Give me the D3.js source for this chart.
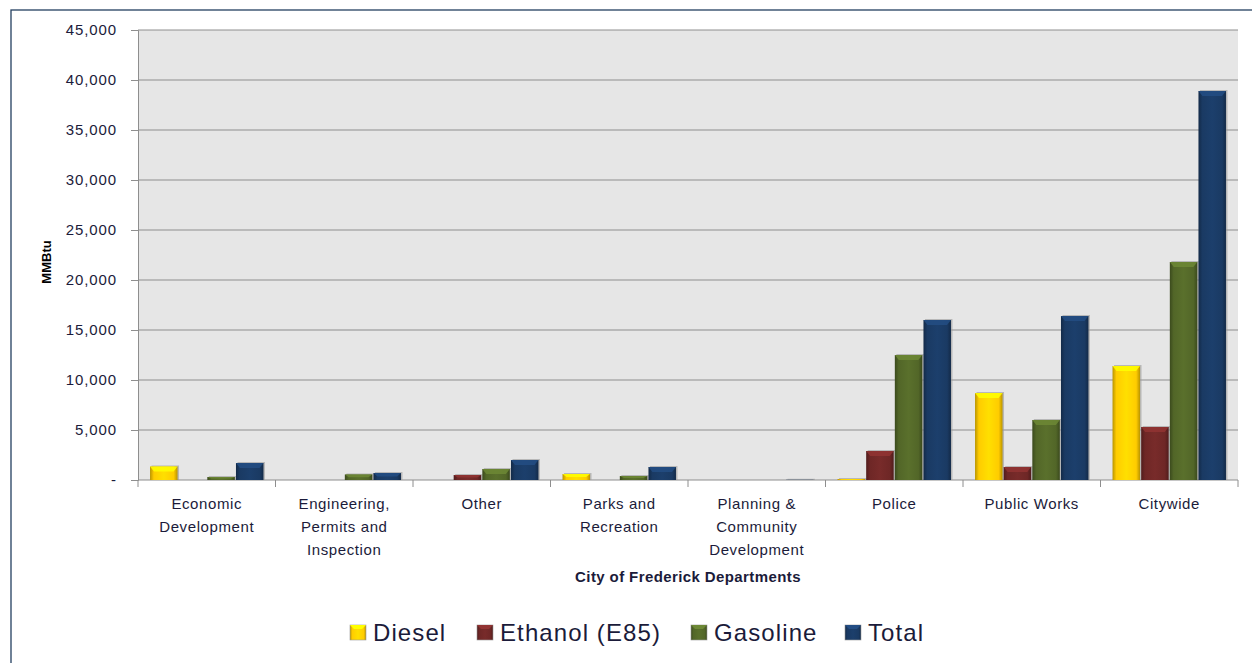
<!DOCTYPE html>
<html><head><meta charset="utf-8">
<script src="https://cdn.jsdelivr.net/npm/d3@7"></script>
<style>body{margin:0;background:#fff}svg{display:block}</style>
</head><body>
<script>
const categories = [["Economic","Development"],["Engineering,","Permits and","Inspection"],["Other"],["Parks and","Recreation"],["Planning &","Community","Development"],["Police"],["Public Works"],["Citywide"]];
const seriesNames = ["Diesel","Ethanol (E85)","Gasoline","Total"];
const diesel   = [1350, 0, 0, 600, 0, 100, 8700, 11400];
const ethanol  = [0, 0, 500, 0, 0, 2900, 1300, 5300];
const gasoline = [300, 550, 1100, 400, 0, 12500, 6000, 21800];
const total    = [1700, 700, 2000, 1300, 20, 16000, 16400, 38900];
const yTicks = [0,5000,10000,15000,20000,25000,30000,35000,40000,45000];
const colors = ["#FFCC00","#6E2726","#526628","#1A3A63"];

const W=1252,H=663;
const svg=d3.select("body").append("svg").attr("width",W).attr("height",H);
const defs=svg.append("defs");
const font="Liberation Sans, Arial, sans-serif";
svg.append("rect").attr("x",11).attr("y",10).attr("width",1260).attr("height",670).attr("fill","#fff").attr("stroke","#243F60").attr("stroke-width",1.3);

const L=138,R=1238,T=30,B=480;
const x=d3.scaleBand().domain(d3.range(categories.length)).range([L,R]).paddingInner(0).paddingOuter(0);
const y=d3.scaleLinear().domain([0,45000]).range([B,T]);
svg.append("rect").attr("x",L).attr("y",T).attr("width",R-L).attr("height",B-T).attr("fill","#E6E6E6");
svg.append("g").selectAll("line").data(yTicks.filter(d=>d>0)).join("line")
 .attr("x1",L).attr("x2",R).attr("y1",d=>y(d)).attr("y2",d=>y(d)).attr("stroke","#8E8E8E").attr("stroke-width",1);

const yAxis=svg.append("g").attr("transform",`translate(${L},0)`)
 .call(d3.axisLeft(y).tickValues(yTicks).tickSize(7).tickPadding(14).tickFormat(d=>d===0?"-":d3.format(",")(d)));
yAxis.select(".domain").attr("stroke","#8E8E8E");
yAxis.selectAll("line").attr("stroke","#8E8E8E");
yAxis.selectAll("text").attr("font-family",font).attr("font-size",15).attr("letter-spacing",0.9).attr("fill","#1B1B3A");

// x axis
const xAxis=svg.append("g");
xAxis.append("line").attr("x1",L).attr("x2",R).attr("y1",B).attr("y2",B).attr("stroke","#8E8E8E");
const bounds=d3.range(categories.length+1).map(i=>i<categories.length?x(i):R);
xAxis.selectAll("line.t").data(bounds).join("line").attr("class","t")
 .attr("x1",d=>d).attr("x2",d=>d).attr("y1",B).attr("y2",B+7).attr("stroke","#8E8E8E");
xAxis.selectAll("text").data(categories).join("text")
 .attr("x",(d,i)=>x(i)+x.bandwidth()/2).attr("y",509).attr("text-anchor","middle")
 .attr("font-family",font).attr("font-size",15).attr("letter-spacing",0.6).attr("fill","#1B1B3A")
 .each(function(d){d3.select(this).selectAll("tspan").data(d).join("tspan").attr("x",d3.select(this).attr("x")).attr("dy",(t,j)=>j?23:0).text(t=>t);});

svg.append("text").attr("x",(L+R)/2).attr("y",582).attr("text-anchor","middle").attr("font-family",font)
 .attr("font-weight","bold").attr("font-size",15).attr("letter-spacing",0.4).attr("fill","#1B1B3A").text("City of Frederick Departments");
svg.append("text").attr("transform","translate(51,262) rotate(-90)").attr("text-anchor","middle").attr("font-family",font)
 .attr("font-weight","bold").attr("font-size",13).attr("fill","#000").text("MMBtu");

// gradients
colors.forEach((c,i)=>{
  const g=defs.append("linearGradient").attr("id","g"+i).attr("x1","0").attr("x2","1").attr("y1","0").attr("y2","0");
  const dk=d3.color(c).darker(0.9), lt=d3.color(c).brighter(0.25);
  [[0,dk],[0.14,c],[0.5,lt],[0.86,c],[1,dk]].forEach(s=>g.append("stop").attr("offset",s[0]).attr("stop-color",s[1]));
});

const series=[diesel,ethanol,gasoline,total];
const inner=d3.scaleBand().domain(d3.range(4)).range([0,x.bandwidth()]).paddingInner(0.04).paddingOuter(0.42);
const bars=svg.append("g");
series.forEach((vals,s)=>{
  const g=bars.append("g");
  vals.forEach((v,i)=>{
    if(v<=0) return;
    const bx=x(i)+inner(s), bw=inner.bandwidth(), by=y(v), bh=B-y(v);
    g.append("rect").attr("x",bx+1.5).attr("y",by-1).attr("width",bw).attr("height",bh+1).attr("fill","#9a9a9a").attr("opacity",0.6);
    g.append("rect").attr("x",bx).attr("y",by).attr("width",bw).attr("height",bh).attr("fill",`url(#g${s})`);
    const cap=Math.min(5,bh/2);
    if(bh>2){
      g.append("path").attr("d",`M${bx},${by}L${bx+bw},${by}L${bx+bw-4},${by+cap}L${bx+4},${by+cap}Z`)
       .attr("fill",d3.color(colors[s]).brighter(0.8)).attr("opacity",0.85);
    }
  });
});

// legend
const leg=svg.append("g");
const lx=[350,477,691,845];
seriesNames.forEach((n,i)=>{
  const gg=leg.append("g").attr("transform",`translate(${lx[i]},625)`);
  gg.append("rect").attr("width",16).attr("height",15).attr("fill",`url(#g${i})`).attr("stroke","#999").attr("stroke-width",0.6);
  gg.append("path").attr("d","M0,0L16,0L12,4L4,4Z").attr("fill",d3.color(colors[i]).brighter(0.8));
  gg.append("text").attr("x",23).attr("y",16).attr("font-family",font).attr("font-size",24).attr("letter-spacing",1.1).attr("fill","#1B1B3A").text(n);
});
</script>
</body></html>
